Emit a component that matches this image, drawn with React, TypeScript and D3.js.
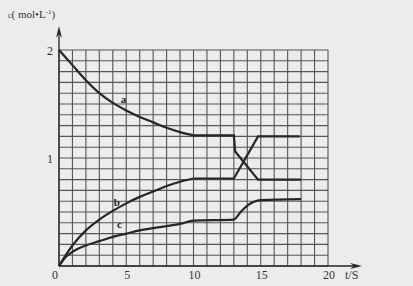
import React from "react";
import * as d3 from "d3";

const W = 413;
const H = 286;

// series a: curved part (0-10 s) and straight part afterwards
const aTimes = [0, 1, 2, 3, 4, 5, 6, 7, 8, 9, 10];
const aValues = [2.0, 1.86, 1.72, 1.6, 1.51, 1.44, 1.38, 1.33, 1.28, 1.24, 1.21];
const aTailTimes = [10, 13, 13.1, 14.8, 18];
const aTailValues = [1.21, 1.21, 1.06, 0.8, 0.8];

const bTimes = [0, 0.5, 1, 2, 3, 4, 5, 6, 7, 8, 9, 10];
const bValues = [0, 0.1, 0.19, 0.33, 0.43, 0.51, 0.58, 0.64, 0.69, 0.74, 0.78, 0.81];
const bTailTimes = [10, 13, 14.8, 17.9];
const bTailValues = [0.81, 0.81, 1.2, 1.2];

const cTimes = [0, 0.4, 1, 2, 3, 4, 5, 6, 7, 8, 9, 10, 13, 13.5, 14, 14.5, 15, 18];
const cValues = [0, 0.07, 0.13, 0.19, 0.23, 0.27, 0.3, 0.33, 0.35, 0.37, 0.39, 0.42, 0.43, 0.5, 0.56, 0.595, 0.61, 0.62];

const xTicks = [0, 5, 10, 15, 20];
const xTickLabels = ["0", "5", "10", "15", "20"];
const yTicks = [1, 2];
const yTickLabels = ["1", "2"];

const seriesLabels = ["a", "b", "c"];
const labelAt = [
  [4.8, 1.51],
  [4.3, 0.56],
  [4.5, 0.35],
];

export default function App() {
  const x = d3.scaleLinear().domain([0, 20]).range([59, 328]);
  const y = d3.scaleLinear().domain([0, 2]).range([266, 50]);

  const smooth = d3
    .line<[number, number]>()
    .x((d) => x(d[0]))
    .y((d) => y(d[1]))
    .curve(d3.curveMonotoneX);
  const straight = d3
    .line<[number, number]>()
    .x((d) => x(d[0]))
    .y((d) => y(d[1]));

  const zip = (t: number[], v: number[]) => t.map((tt, i) => [tt, v[i]] as [number, number]);

  const vLines = d3.range(0, 21);
  const hLines = d3.range(0, 21).map((i) => i / 10);

  const ink = "#262626";
  const grid = "#555";
  const font = "'Liberation Serif', 'DejaVu Serif', serif";

  return (
    <svg width={W} height={H} style={{ position: "absolute", left: 0, top: 0, background: "#ececec" }}>
      <rect x={0} y={0} width={W} height={H} fill="#ececec" />
      {/* grid */}
      {vLines.map((t) => (
        <line key={"v" + t} x1={x(t)} x2={x(t)} y1={y(0)} y2={y(2)} stroke={grid} strokeWidth={1.1} />
      ))}
      {hLines.map((c, i) => (
        <line key={"h" + i} x1={x(0)} x2={x(20)} y1={y(c)} y2={y(c)} stroke={grid} strokeWidth={1.1} />
      ))}
      {/* axes */}
      <line x1={x(0)} x2={x(0)} y1={y(0)} y2={30} stroke={ink} strokeWidth={1.3} />
      <path d={`M${x(0)},26 L${x(0) - 3},38 L${x(0)},34 L${x(0) + 3},38 Z`} fill={ink} />
      <line x1={x(0)} x2={358} y1={y(0)} y2={y(0)} stroke={ink} strokeWidth={1.3} />
      <path d={`M362,${y(0)} L350,${y(0) - 3} L354,${y(0)} L350,${y(0) + 3} Z`} fill={ink} />

      {/* curves */}
      <path d={smooth(zip(aTimes, aValues)) || ""} fill="none" stroke={ink} strokeWidth={2.2} />
      <path d={straight(zip(aTailTimes, aTailValues)) || ""} fill="none" stroke={ink} strokeWidth={2.2} />
      <path d={smooth(zip(bTimes, bValues)) || ""} fill="none" stroke={ink} strokeWidth={2.2} />
      <path d={straight(zip(bTailTimes, bTailValues)) || ""} fill="none" stroke={ink} strokeWidth={2.2} />
      <path d={smooth(zip(cTimes, cValues)) || ""} fill="none" stroke={ink} strokeWidth={2.2} />

      {/* series labels */}
      {seriesLabels.map((s, i) => (
        <text
          key={s}
          x={x(labelAt[i][0])}
          y={y(labelAt[i][1])}
          fontFamily={font}
          fontSize={11}
          fontWeight="bold"
          fill={ink}
          textAnchor="middle"
        >
          {s}
        </text>
      ))}

      {/* tick labels */}
      {xTicks.map((t, i) => (
        <text
          key={"xt" + t}
          x={t === 0 ? x(0) - 4 : x(t) + 1}
          y={279}
          fontFamily={font}
          fontSize={12}
          fill="#333"
          textAnchor="middle"
        >
          {xTickLabels[i]}
        </text>
      ))}
      <text x={345} y={279} fontFamily={font} fontSize={12} fill="#333">
        t/S
      </text>
      {yTicks.map((c, i) => (
        <text
          key={"yt" + c}
          x={53}
          y={y(c) + 5}
          fontFamily={font}
          fontSize={12}
          fill="#333"
          textAnchor="end"
        >
          {yTickLabels[i]}
        </text>
      ))}
      <text x={8} y={18} fontFamily={font} fontSize={11} fill="#333">
        <tspan fontSize={8}>c</tspan>
        <tspan>( mol•L</tspan>
        <tspan fontSize={7} dy={-4}>-1</tspan>
        <tspan dy={4}>)</tspan>
      </text>
    </svg>
  );
}
